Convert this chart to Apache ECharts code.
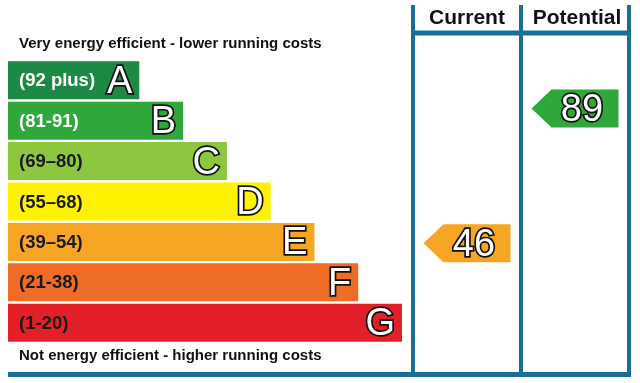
<!DOCTYPE html>
<html>
<head>
<meta charset="utf-8">
<script src="https://cdn.jsdelivr.net/npm/echarts@6/dist/echarts.min.js"></script>
<style>
  html, body { margin: 0; padding: 0; background: #fff; }
  #main { width: 640px; height: 383px; }
</style>
</head>
<body>
<div id="main"></div>
<script>
// 能效等级数据
var bands = ['A', 'B', 'C', 'D', 'E', 'F', 'G'];
var ranges = ['(92 plus)', '(81-91)', '(69–80)', '(55–68)', '(39–54)', '(21-38)', '(1-20)'];
var bandLow = [92, 81, 69, 55, 39, 21, 1];
var bandHigh = [100, 91, 80, 68, 54, 38, 20];
var barLengths = [3, 4, 5, 6, 7, 8, 9];
var bandColors = ['#1c8a44', '#2fa73a', '#8dc63f', '#fff200', '#f6a623', '#ee6c26', '#e3202a'];
var rangeTextColors = ['#ffffff', '#ffffff', '#1a1a1a', '#1a1a1a', '#1a1a1a', '#1a1a1a', '#1a1a1a'];

// 当前 / 潜在评分
var columns = ['Current', 'Potential'];
var ratings = [46, 89];

var frameColor = '#1a6f95';
var letterFont = '38px "Liberation Sans", Arial, sans-serif';
var boldFont = 'bold 18.5px "Liberation Sans", Arial, sans-serif';
var noteFont = 'bold 15px "Liberation Sans", Arial, sans-serif';
var headFont = 'bold 21px "Liberation Sans", Arial, sans-serif';

function bandOf(v) {
  for (var i = 0; i < bands.length; i++) {
    if (v >= bandLow[i]) return i;
  }
  return bands.length - 1;
}

var barData = [];
for (var i = 0; i < bands.length; i++) {
  barData.push([barLengths[i], i]);
}

var arrowData = [];
for (var j = 0; j < ratings.length; j++) {
  arrowData.push([j, bandOf(ratings[j]), ratings[j]]);
}

// 白色描边大字
function outlinedText(txt, x, y, align) {
  return {
    type: 'text',
    style: {text: txt, x: x, y: y, font: letterFont, fill: '#ffffff', stroke: '#111111',
      lineWidth: 3.4, strokeFirst: true, align: align, verticalAlign: 'middle'}
  };
}

var chart = echarts.init(document.getElementById('main'));

var option = {
  animation: false,
  backgroundColor: '#ffffff',
  grid: [
    {left: 8, top: 60, width: 394, height: 283},
    {left: 413, top: 60, width: 216, height: 283}
  ],
  xAxis: [
    {gridIndex: 0, type: 'value', min: 0, max: 9, show: false},
    {gridIndex: 1, type: 'category', data: columns, show: false}
  ],
  yAxis: [
    {gridIndex: 0, type: 'category', data: bands, inverse: true, show: false},
    {gridIndex: 1, type: 'category', data: bands, inverse: true, show: false}
  ],
  graphic: [
    // 标题文字
    {type: 'text', x: 19, y: 44, style: {text: 'Very energy efficient - lower running costs', font: noteFont, fill: '#111', verticalAlign: 'middle'}},
    {type: 'text', x: 19, y: 356, style: {text: 'Not energy efficient - higher running costs', font: noteFont, fill: '#111', verticalAlign: 'middle'}},
    {type: 'text', x: 467, y: 18, style: {text: 'Current', font: headFont, fill: '#111', align: 'center', verticalAlign: 'middle'}},
    {type: 'text', x: 577, y: 18, style: {text: 'Potential', font: headFont, fill: '#111', align: 'center', verticalAlign: 'middle'}},
    // 边框线
    {type: 'line', shape: {x1: 413, y1: 5, x2: 413, y2: 377}, style: {stroke: frameColor, lineWidth: 4}},
    {type: 'line', shape: {x1: 521, y1: 5, x2: 521, y2: 377}, style: {stroke: frameColor, lineWidth: 4}},
    {type: 'line', shape: {x1: 629, y1: 5, x2: 629, y2: 377}, style: {stroke: frameColor, lineWidth: 4}},
    {type: 'line', shape: {x1: 411, y1: 33, x2: 631, y2: 33}, style: {stroke: frameColor, lineWidth: 5}},
    {type: 'line', shape: {x1: 8, y1: 374.5, x2: 631, y2: 374.5}, style: {stroke: frameColor, lineWidth: 5}}
  ],
  series: [
    {
      // 等级色条
      type: 'custom',
      xAxisIndex: 0,
      yAxisIndex: 0,
      data: barData,
      renderItem: function (params, api) {
        var idx = api.value(1);
        var start = api.coord([0, idx]);
        var end = api.coord([api.value(0), idx]);
        var h = 38;
        return {
          type: 'group',
          children: [
            {type: 'rect', shape: {x: start[0], y: start[1] - h / 2, width: end[0] - start[0], height: h},
              style: {fill: bandColors[idx]}},
            {type: 'text', style: {text: ranges[idx], x: start[0] + 11, y: start[1] + 1, font: boldFont,
              fill: rangeTextColors[idx], align: 'left', verticalAlign: 'middle'}},
            outlinedText(bands[idx], end[0] - 7, start[1] + 2, 'right')
          ]
        };
      }
    },
    {
      // 当前 / 潜在 箭头
      type: 'custom',
      xAxisIndex: 1,
      yAxisIndex: 1,
      data: arrowData,
      renderItem: function (params, api) {
        var col = api.value(0);
        var idx = api.value(1);
        var val = api.value(2);
        var c = api.coord([col, idx]);
        var bandH = api.size([0, 1])[1];
        var frac = (val - bandLow[idx]) / (bandHigh[idx] - bandLow[idx]);
        var cy = c[1] - (frac - 0.5) * bandH;
        var cx = c[0];
        var hw = 43.5, hh = 19, tip = 20;
        return {
          type: 'group',
          children: [
            {type: 'polygon', shape: {points: [
              [cx - hw, cy], [cx - hw + tip, cy - hh], [cx + hw, cy - hh],
              [cx + hw, cy + hh], [cx - hw + tip, cy + hh]]},
              style: {fill: bandColors[idx]}},
            outlinedText(String(val), cx + 7, cy + 2, 'center')
          ]
        };
      }
    }
  ]
};

chart.setOption(option);
</script>
</body>
</html>
